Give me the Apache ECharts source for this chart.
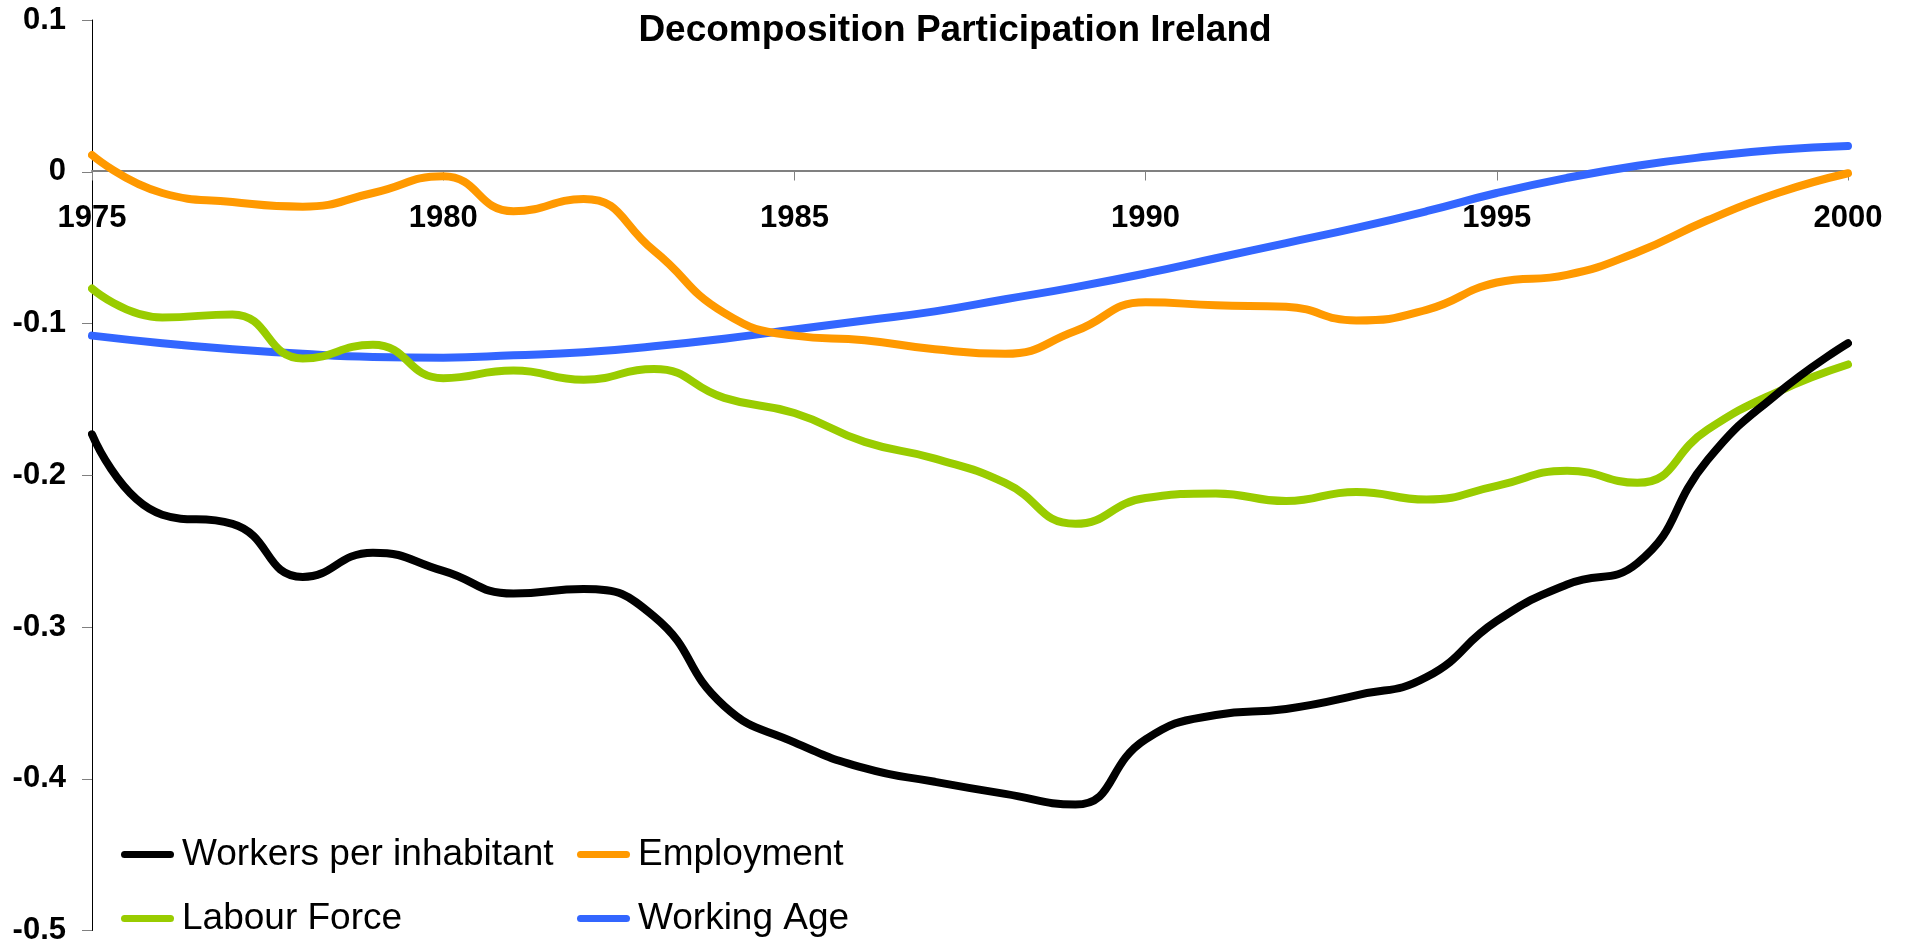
<!DOCTYPE html>
<html>
<head>
<meta charset="utf-8">
<script src="https://cdn.jsdelivr.net/npm/echarts@6/dist/echarts.min.js"></script>
<style>
  html, body { margin: 0; padding: 0; background: #ffffff; }
  #chart { width: 1910px; height: 946px; }
</style>
</head>
<body>
<div id="chart"></div>
<script>
// ---- Data ----
var years = [1975, 1976, 1977, 1978, 1979, 1980, 1981, 1982, 1983, 1984, 1985, 1986, 1987,
             1988, 1989, 1990, 1991, 1992, 1993, 1994, 1995, 1996, 1997, 1998, 1999, 2000];

var workersPerInhabitant = [-0.173, -0.226, -0.232, -0.267, -0.251, -0.263, -0.278, -0.275, -0.293,
  -0.352, -0.376, -0.393, -0.402, -0.410, -0.417, -0.374, -0.358, -0.354, -0.345, -0.333,
  -0.296, -0.272, -0.258, -0.190, -0.146, -0.113];

var employment = [0.011, -0.014, -0.020, -0.023, -0.014, -0.003, -0.026, -0.018, -0.052,
  -0.093, -0.108, -0.111, -0.117, -0.120, -0.105, -0.086, -0.088, -0.089, -0.098, -0.091,
  -0.073, -0.068, -0.053, -0.032, -0.014, -0.001];

var labourForce = [-0.077, -0.096, -0.094, -0.123, -0.114, -0.136, -0.131, -0.137, -0.130,
  -0.149, -0.159, -0.178, -0.189, -0.205, -0.232, -0.215, -0.212, -0.217, -0.211, -0.216,
  -0.207, -0.197, -0.205, -0.170, -0.145, -0.127];

var workingAge = [-0.108, -0.113, -0.117, -0.120, -0.122, -0.1225, -0.121, -0.119, -0.115,
  -0.110, -0.104, -0.098, -0.092, -0.084, -0.076, -0.067, -0.057, -0.047, -0.037, -0.026,
  -0.014, -0.004, 0.004, 0.010, 0.0145, 0.017];

var seriesNames = ['Workers per inhabitant', 'Employment', 'Labour Force', 'Working Age'];
var seriesColors = ['#000000', '#FF9900', '#99CC00', '#3366FF'];
var yTickValues = [0.1, 0, -0.1, -0.2, -0.3, -0.4, -0.5];
var xTickYears = [1975, 1980, 1985, 1990, 1995, 2000];
var titleText = 'Decomposition Participation Ireland';

// ---- Chart ----
function pairs(vals) {
  return years.map(function (y, i) { return [y, vals[i]]; });
}
var allValues = [workersPerInhabitant, employment, labourForce, workingAge];
var FONT = '"Liberation Sans", Arial, sans-serif';
var legendIcon = 'path://M3.5,0 H49.5 A3.5,3.5 0 0 1 49.5,7 H3.5 A3.5,3.5 0 0 1 3.5,0 Z';

var GRID_TOP = 20, GRID_BOTTOM = 14, CHART_H = 946;
var yMin = yTickValues[yTickValues.length - 1], yMax = yTickValues[0];
var plotH = CHART_H - GRID_TOP - GRID_BOTTOM;
// distance from the bottom of the plot up to the zero line (axis sits on zero)
var zeroOffset = -plotH * (0 - yMin) / (yMax - yMin);

var chart = echarts.init(document.getElementById('chart'), null, { renderer: 'canvas' });

var series = seriesNames.map(function (name, i) {
  return {
    name: name,
    type: 'line',
    data: pairs(allValues[i]),
    smooth: true,
    showSymbol: false,
    symbol: 'none',
    lineStyle: { color: seriesColors[i], width: 8, cap: 'round', join: 'round' },
    itemStyle: { color: seriesColors[i] },
    emphasis: { disabled: true },
    z: 10 - i
  };
});

var legendCommon = {
  orient: 'vertical',
  itemWidth: 53,
  itemHeight: 7,
  itemGap: 27,
  icon: legendIcon,
  padding: 0,
  textStyle: { fontFamily: FONT, fontSize: 37, color: '#000000', padding: [0, 0, 0, 3] }
};

var option = {
  animation: false,
  backgroundColor: '#ffffff',
  title: {
    text: titleText,
    left: 'center',
    top: 12,
    padding: 0,
    textStyle: { fontFamily: FONT, fontSize: 37, fontWeight: 'bold', color: '#000000' }
  },
  legend: [
    Object.assign({}, legendCommon, { left: 121, top: 836, data: [seriesNames[0], seriesNames[2]] }),
    Object.assign({}, legendCommon, { left: 577, top: 836, data: [seriesNames[1], seriesNames[3]] })
  ],
  grid: { left: 92, right: 62, top: GRID_TOP, bottom: GRID_BOTTOM, containLabel: false },
  xAxis: {
    type: 'value',
    position: 'bottom',
    offset: zeroOffset,
    min: xTickYears[0],
    max: xTickYears[xTickYears.length - 1],
    interval: 5,
    axisLine: { onZero: false, lineStyle: { color: '#808080', width: 2 } },
    axisTick: { show: true, length: 10, lineStyle: { color: '#808080', width: 1 } },
    axisLabel: {
      margin: 32,
      fontFamily: FONT, fontSize: 31, fontWeight: 'bold', color: '#000000',
      formatter: function (v) { return String(Math.round(v)); }
    },
    splitLine: { show: false }
  },
  yAxis: {
    type: 'value',
    min: yMin,
    max: yMax,
    interval: 0.1,
    axisLine: { show: true, onZero: false, lineStyle: { color: '#000000', width: 1 } },
    axisTick: { show: true, length: 10, lineStyle: { color: '#808080', width: 1 } },
    axisLabel: {
      margin: 26,
      fontFamily: FONT, fontSize: 31, fontWeight: 'bold', color: '#000000',
      formatter: function (v) {
        var r = Math.round(v * 10) / 10;
        return r === 0 ? '0' : r.toFixed(1);
      }
    },
    splitLine: { show: false }
  },
  series: series
};

chart.setOption(option);
</script>
</body>
</html>
